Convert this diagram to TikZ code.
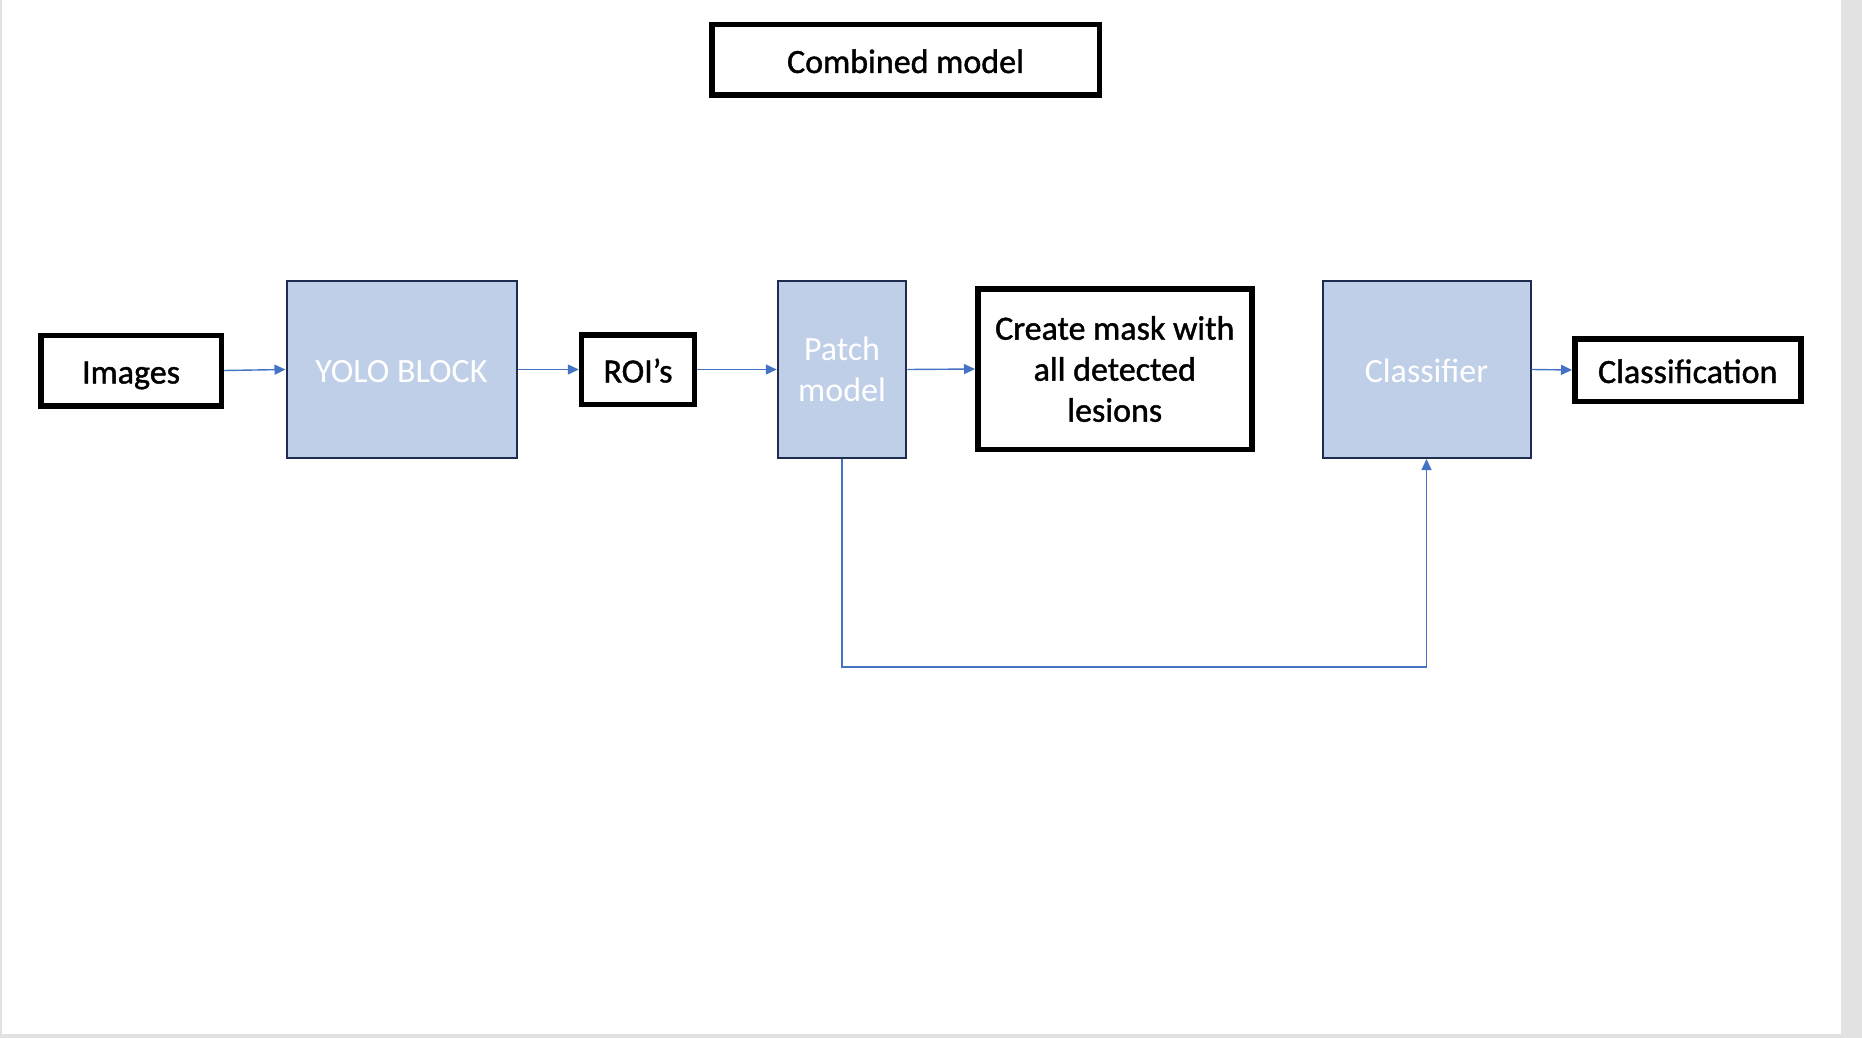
\documentclass[tikz,border=0pt]{standalone}
\usepackage{fontspec}
\setmainfont{Carlito}
\newfontfamily\heavy[FakeBold=1.2]{Carlito}
\usetikzlibrary{arrows.meta}
\definecolor{boxfill}{RGB}{192,207,232}
\definecolor{boxline}{RGB}{31,44,79}
\definecolor{arrowblue}{RGB}{68,114,196}
\definecolor{pagegrey}{RGB}{226,226,226}
\tikzset{
  blackbox/.style={draw=black, line width=5.5pt, fill=white, inner sep=0pt, align=center, font=\heavy\fontsize{34}{41}\selectfont, text=black},
  bluebox/.style={draw=boxline, line width=2pt, fill=boxfill, inner sep=0pt, align=center, font=\fontsize{34}{41}\selectfont, text=white},
  oneline/.style={text height=30pt, text depth=4pt},
  arr/.style={draw=arrowblue, line width=1.4pt, -{Triangle[length=11pt,width=10pt]}},
}
\begin{document}
\begin{tikzpicture}[x=1pt,y=-1pt]
\useasboundingbox (0,0) rectangle (1862,1038);
\fill[pagegrey] (0,0) rectangle (1862,1038);
\fill[white] (2,0) rectangle (1841,1034);
% nodes
\node[blackbox, oneline, minimum width=387.5pt, minimum height=70.5pt] (comb) at (905.5,60) {Combined model};
\node[blackbox, oneline, minimum width=180.5pt, minimum height=70.5pt] (img) at (131,370.5) {Images};
\node[bluebox, oneline, minimum width=230pt, minimum height=177pt] (yolo) at (401.5,369.5) {YOLO BLOCK};
\node[blackbox, oneline, minimum width=113pt, minimum height=69.5pt] (roi) at (638,369.5) {ROI’s};
\node[bluebox, minimum width=128.5pt, minimum height=177pt] (patch) at (842,369.5) {Patch\\model};
\node[blackbox, minimum width=274pt, minimum height=160.5pt] (mask) at (1114.75,369) {Create mask with\\all detected\\lesions};
\node[bluebox, oneline, minimum width=208pt, minimum height=177pt] (cls) at (1426.5,369.5) {Classifier};
\node[blackbox, oneline, minimum width=226pt, minimum height=62.5pt] (out) at (1687.75,370) {Classification};
\coordinate (loop) at (1100,667);
% connectors
\draw[arr] (img.east) -- (yolo.west);
\draw[arr] (yolo.east) -- (roi.west);
\draw[arr] (roi.east) -- (patch.west);
\draw[arr] (patch.east) -- (mask.west);
\draw[arr] (cls.east) -- (out.west);
\draw[arr] (patch.south) |- (loop) -| (cls.south);
\end{tikzpicture}
\end{document}
